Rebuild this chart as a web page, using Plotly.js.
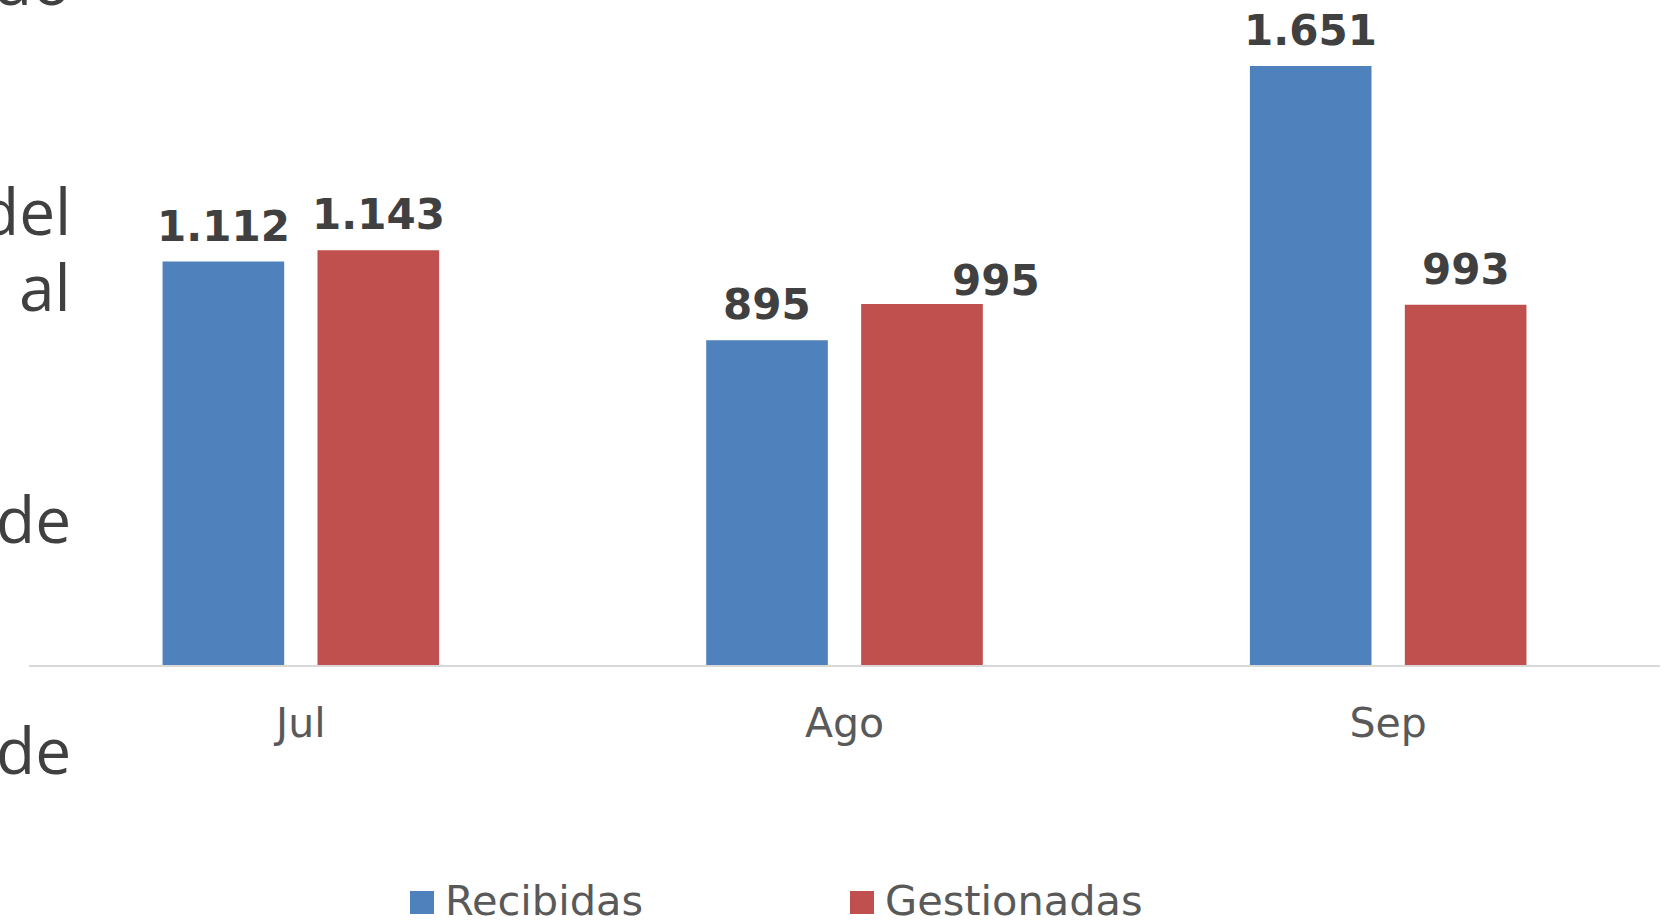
<!DOCTYPE html>
<html>
<head>
<meta charset="utf-8">
<script src="https://cdn.plot.ly/plotly-3.0.1.min.js"></script>
<style>
html,body{margin:0;padding:0;background:#fff;overflow:hidden;}
#chart{width:1664px;height:921px;}
</style>
</head>
<body>
<div id="chart"></div>
<script>
// ---- data ----
const categories = ['Jul', 'Ago', 'Sep'];
const seriesNames = ['Recibidas', 'Gestionadas'];
const recibidas = [1112, 895, 1651];
const gestionadas = [1143, 995, 993];
// cropped fragments of a text block at the left edge
const sideFragments = ['do', 'del', 'al', 'de', 'de'];

// ---- layout helpers ----
const W = 1664, H = 921;
const M = {l: 29, r: 4, t: 0, b: 256};
const plotW = W - M.l - M.r, plotH = H - M.t - M.b;
const pxX = px => (px - M.l) / plotW;
const pxY = py => (H - M.b - py) / plotH;

const colors = ['#4F81BD', '#C0504D'];
const fmt = n => String(n).replace(/\B(?=(\d{3})+(?!\d))/g, '.');

const traces = [recibidas, gestionadas].map((vals, i) => ({
  type: 'bar',
  name: seriesNames[i],
  x: categories,
  y: vals,
  marker: {color: colors[i], line: {width: 0}},
  showlegend: false,
  hoverinfo: 'x+y'
}));

const annotations = [];
// value labels
const slot = 77.5;
[recibidas, gestionadas].forEach((vals, i) => {
  vals.forEach((v, j) => {
    let xs = (i === 0 ? -slot : slot), ys = 9;
    if (i === 1 && j === 1) { xs += 74; ys = -3; }
    annotations.push({
      x: categories[j], y: v, xref: 'x', yref: 'y',
      text: fmt(v), showarrow: false,
      xanchor: 'center', yanchor: 'bottom',
      xshift: xs, yshift: ys,
      font: {family: 'DejaVu Sans, Verdana, sans-serif', size: 42, weight: 'bold', color: '#404040'}
    });
  });
});

// left-edge text fragments (clipped by the page edge)
const fragBaselines = [5, 235, 311, 543, 774];
sideFragments.forEach((t, k) => {
  annotations.push({
    x: pxX(73), y: pxY(fragBaselines[k] + 21), xref: 'paper', yref: 'paper',
    text: t, showarrow: false, xanchor: 'right', yanchor: 'bottom',
    font: {family: 'Open Sans, sans-serif', size: 64, color: '#404040'}
  });
});

// legend (squares + names)
const legendSquareX = [410, 850];
const shapes = [];
seriesNames.forEach((nm, i) => {
  const x0 = legendSquareX[i];
  shapes.push({
    type: 'rect', xref: 'paper', yref: 'paper',
    x0: pxX(x0), x1: pxX(x0 + 24), y0: pxY(914), y1: pxY(891),
    fillcolor: colors[i], line: {width: 0}
  });
  annotations.push({
    x: pxX(x0 + 33), y: pxY(915 + 12), xref: 'paper', yref: 'paper',
    text: nm, showarrow: false, xanchor: 'left', yanchor: 'bottom',
    font: {family: 'DejaVu Sans, Verdana, sans-serif', size: 41.5, color: '#595959'}
  });
});

const layout = {
  width: W, height: H,
  margin: M,
  paper_bgcolor: '#ffffff', plot_bgcolor: '#ffffff',
  barmode: 'group',
  bargap: 0.43,
  bargroupgap: 0.215,
  showlegend: false,
  xaxis: {
    type: 'category',
    range: [-0.5, 2.5],
    showline: true, linecolor: '#D9D9D9', linewidth: 2,
    showgrid: false, zeroline: false, ticks: '',
    ticklabelstandoff: 21,
    tickfont: {family: 'DejaVu Sans, Verdana, sans-serif', size: 41, color: '#595959'}
  },
  yaxis: {
    range: [0, 1833],
    visible: false, showgrid: false, zeroline: false
  },
  annotations: annotations,
  shapes: shapes
};

Plotly.newPlot('chart', traces, layout, {displayModeBar: false, staticPlot: true});
</script>
</body>
</html>
